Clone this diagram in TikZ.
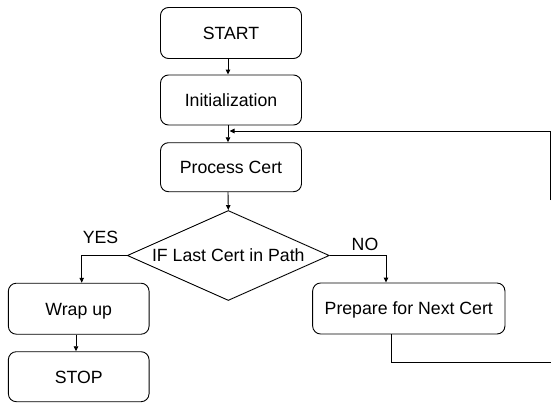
\documentclass[tikz,border=0pt]{standalone}
\usepackage{fontspec}
\setmainfont{Liberation Sans}
\usetikzlibrary{arrows.meta,shapes.geometric}
\begin{document}
\begin{tikzpicture}[x=1pt,y=-1pt,
  font=\fontsize{17.7}{21}\selectfont,
  line width=0.9pt,
  every node/.style={text height=12.7pt,text depth=0pt,inner sep=0pt},
  box/.style={draw,rounded corners=8pt,minimum width=141pt,minimum height=50pt},
  decision/.style={draw,diamond,minimum width=202pt,minimum height=90pt,aspect=2.24},
  flow/.style={-{Triangle[length=5pt,width=4.5pt]}}]
\useasboundingbox (0,0) rectangle (551,404);

% main column
\node[box,minimum height=51pt] (start) at (231,33) {START};
\node[box] (init) at (231,100) {Initialization};
\node[box,minimum height=49pt] (proc) at (231,167.2) {Process Cert};
\node[decision] (test) at (228.3,255.5) {IF Last Cert in Path};

% branches
\node[box,minimum width=140.7pt,minimum height=51pt] (wrap) at (78.7,308.7) {Wrap up};
\node[box,minimum width=140.7pt] (stop) at (78.7,376.7) {STOP};
\node[box,minimum width=192.3pt,minimum height=51pt] (prep) at (408.8,308.5) {Prepare for Next Cert};

\node (yes) at (100.5,237.5) {YES};
\node (no) at (365,244) {NO};

% connectors
\draw[flow] ([xshift=-3pt]start.south) -- ([xshift=-3pt]init.north);
\draw[flow] ([xshift=-3pt]init.south) -- ([xshift=-3pt]proc.north);
\draw[flow] ([xshift=-3pt]proc.south) -- (test.north);
\draw[flow] (test.west) -| ([xshift=3pt]wrap.north);
\draw[flow] (test.east) -| ([xshift=-22.8pt]prep.north);
\draw[flow] ([xshift=-2.7pt]wrap.south) -- ([xshift=-2.7pt]stop.north);

% loop back to the next certificate
\coordinate (loopend) at (551,362.3);
\coordinate (fbstart) at (550,200);
\coordinate (merge) at (229.5,131);
\draw ([xshift=-17.1pt]prep.south) |- (loopend);
\draw[flow] (fbstart) |- (merge);
\end{tikzpicture}
\end{document}
